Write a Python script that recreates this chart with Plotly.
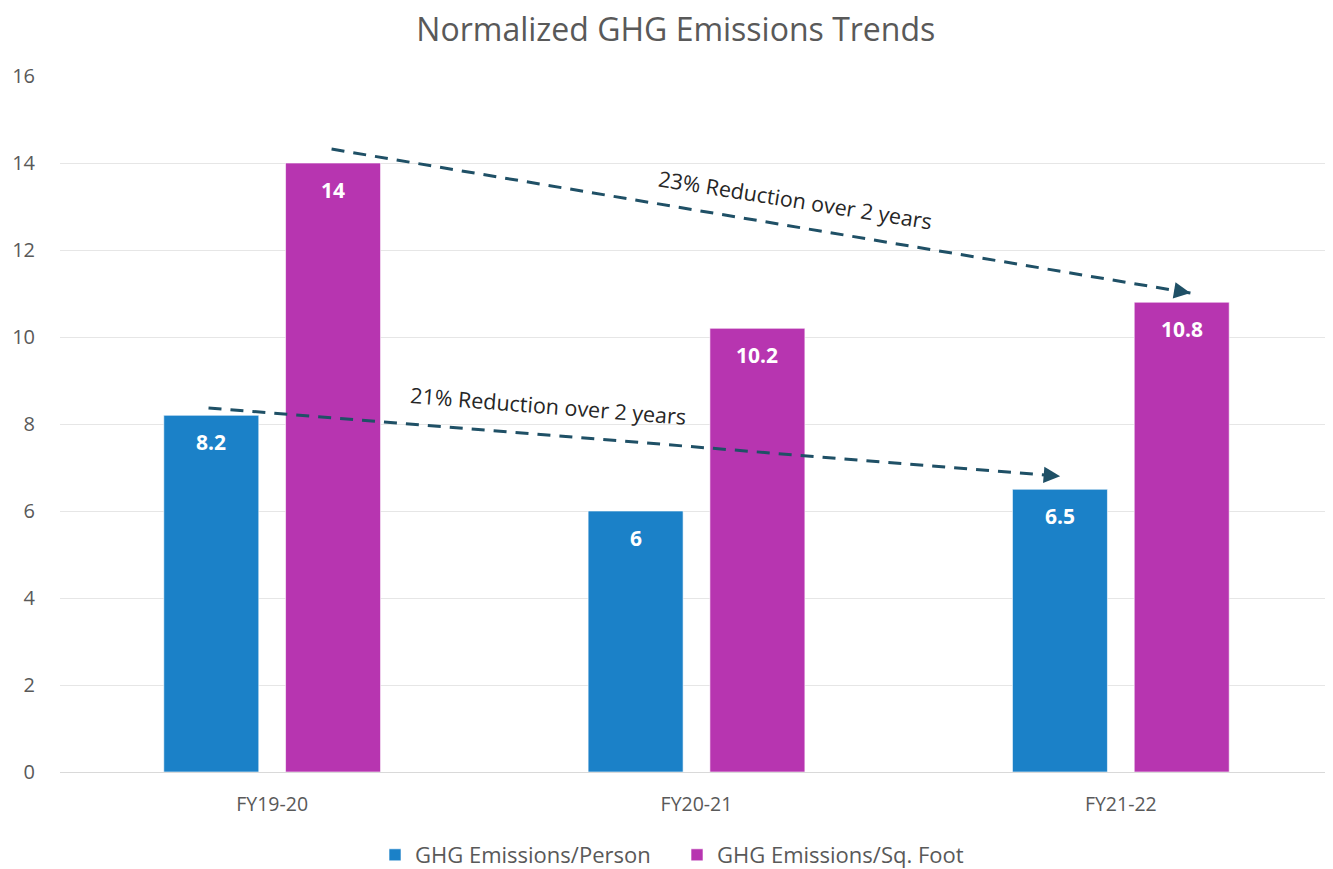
import plotly.graph_objects as go

categories = ["FY19-20", "FY20-21", "FY21-22"]
per_person = [8.2, 6, 6.5]
per_sqft = [14, 10.2, 10.8]
series_names = ["GHG Emissions/Person", "GHG Emissions/Sq. Foot"]
y_ticks = [0, 2, 4, 6, 8, 10, 12, 14, 16]

# trend arrows: (x_start, y_start, x_end, y_end) in category-index units
trend_top = [0.14, 14.32, 2.164, 11.01]
trend_bottom = [-0.15, 8.37, 1.857, 6.80]
trend_top_label = "23% Reduction over 2 years"
trend_bottom_label = "21% Reduction over 2 years"

BLUE = "rgb(27,129,200)"
MAGENTA = "rgb(183,53,176)"
ARROW = "rgb(31,80,102)"
FONT = "Open Sans"
BAR_OFFSET = 0.1437  # half group spacing in category units

fig = go.Figure()
for vals, name, color in ((per_person, series_names[0], BLUE),
                          (per_sqft, series_names[1], MAGENTA)):
    fig.add_trace(go.Bar(
        x=categories, y=vals, name=name,
        marker=dict(color=color, line=dict(color="rgba(255,255,255,0.6)", width=1)),
        hoverinfo="x+y",
    ))

for s, vals in ((-1, per_person), (1, per_sqft)):
    for i, v in enumerate(vals):
        fig.add_annotation(
            x=i + s * BAR_OFFSET, y=v, xref="x2", yref="y", text=f"{v:g}",
            showarrow=False, yshift=-27,
            font=dict(family=FONT, size=21, color="white", weight="bold"),
        )

for tr in (trend_top, trend_bottom):
    fig.add_trace(go.Scatter(
        x=[tr[0], tr[2]], y=[tr[1], tr[3]], mode="lines",
        line=dict(color=ARROW, width=3, dash="13px,9px"),
        xaxis="x2", yaxis="y", showlegend=False, hoverinfo="skip",
    ))
    fig.add_annotation(
        x=tr[2], y=tr[3], xref="x2", yref="y", text="",
        showarrow=True, arrowhead=2, arrowsize=1.1, arrowwidth=3,
        arrowcolor=ARROW, axref="x2", ayref="y",
        ax=tr[2] - (tr[2] - tr[0]) * 0.02, ay=tr[3] - (tr[3] - tr[1]) * 0.02,
    )

fig.add_annotation(x=1.233, y=13.15, xref="x2", yref="y", text=trend_top_label,
                   showarrow=False, textangle=9,
                   font=dict(family=FONT, size=21.5, color="#262626"))
fig.add_annotation(x=0.651, y=8.42, xref="x2", yref="y", text=trend_bottom_label,
                   showarrow=False, textangle=4.5,
                   font=dict(family=FONT, size=21.5, color="#262626"))

fig.update_layout(
    width=1325, height=861,
    paper_bgcolor="white", plot_bgcolor="white",
    margin=dict(l=51.5, r=0, t=68, b=97),
    title=dict(text="Normalized GHG Emissions Trends", x=0.504, xanchor="center",
               xref="container", yref="container",
               y=1 - 22 / 861, yanchor="middle",
               font=dict(family=FONT, size=32, color="#595959")),
    barmode="group", bargap=0.426, bargroupgap=0.22,
    font=dict(family=FONT, color="#595959"),
    xaxis=dict(categoryorder="array", categoryarray=categories,
               tickfont=dict(family=FONT, size=19.5, color="#595959"),
               showgrid=False, showline=True, linecolor="#D9D9D9", linewidth=1,
               ticks="", ticklabelstandoff=15),
    xaxis2=dict(overlaying="x", range=[-0.5, 2.5], visible=False),
    yaxis=dict(range=[0, 16], tickvals=y_ticks, showgrid=True,
               gridcolor="#E6E6E6", gridwidth=1, zeroline=False,
               tickfont=dict(family=FONT, size=20, color="#595959"),
               ticklabelstandoff=24),
    legend=dict(orientation="h", xref="container", yref="container",
                x=0.277, xanchor="left", y=1 - 847 / 861, yanchor="middle",
                font=dict(family=FONT, size=22, color="#595959"),
                itemwidth=30, entrywidth=257),
)

fig.write_html("out.html")
